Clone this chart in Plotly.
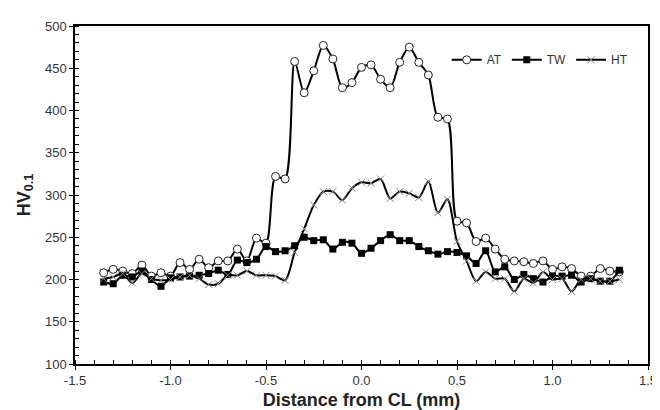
import numpy as np
import plotly.graph_objects as go

# Distance from centre line (mm): -1.35 .. 1.35 step 0.05 (55 points)
distance = [round(-1.35 + 0.05 * i, 2) for i in range(55)]

AT = [208, 212, 210, 207, 217, 204, 208, 204, 220, 212,
      224, 214, 222, 222, 236, 222, 249, 243, 322, 319,
      458, 421, 447, 477, 461, 427, 433, 451, 454, 437,
      427, 457, 475, 457, 442, 392, 390, 269, 267, 245,
      249, 236, 224, 222, 221, 219, 222, 212, 215, 213,
      204, 204, 213, 210, 209]

TW = [197, 195, 205, 203, 210, 200, 192, 202, 203, 204,
      205, 207, 211, 206, 223, 220, 224, 239, 233, 234,
      240, 250, 246, 247, 236, 244, 243, 231, 237, 246,
      253, 246, 246, 239, 234, 230, 233, 232, 228, 219,
      234, 209, 215, 200, 206, 201, 197, 204, 204, 205,
      197, 201, 198, 198, 211]

HT = [201, 203, 207, 196, 207, 201, 199, 200, 203, 205,
      201, 194, 195, 205, 205, 210, 205, 205, 204, 199,
      232, 260, 288, 304, 304, 294, 308, 315, 314, 319,
      296, 304, 302, 297, 316, 279, 295, 245, 222, 198,
      209, 201, 201, 186, 201, 196, 209, 200, 201, 186,
      200, 201, 198, 198, 200]

x_ticks = [-1.5, -1.0, -0.5, 0.0, 0.5, 1.0, 1.5]
x_ticklabels = ["-1.5", "-1.0", "-0.5", "0.0", "0.5", "1.0", "1.5"]

FONT = "Liberation Sans, Arial, sans-serif"

fig = go.Figure()
fig.add_trace(go.Scatter(
    x=distance, y=AT, name="AT", mode="lines+markers",
    line=dict(color="black", width=2, shape="spline", smoothing=0.8),
    marker=dict(symbol="circle", size=8, color="white",
                line=dict(color="#222", width=1))))
fig.add_trace(go.Scatter(
    x=distance, y=TW, name="TW", mode="lines+markers",
    line=dict(color="black", width=2, shape="spline", smoothing=0.8),
    marker=dict(symbol="square", size=7, color="black")))
fig.add_trace(go.Scatter(
    x=distance, y=HT, name="HT", mode="lines+markers",
    line=dict(color="black", width=2, shape="spline", smoothing=0.8),
    marker=dict(symbol="x-thin", size=7, color="#888",
                line=dict(color="#888", width=1))))

fig.update_layout(
    width=660, height=410,
    margin=dict(l=67, r=11, t=13, b=47),
    paper_bgcolor="white", plot_bgcolor="white",
    font=dict(family=FONT, size=13, color="#333"),
    showlegend=True,
    legend=dict(orientation="h", x=0.975, xanchor="right", y=0.90, yanchor="middle",
                bgcolor="rgba(0,0,0,0)", font=dict(size=12, color="#333"),
                itemwidth=30, tracegroupgap=0),
    xaxis=dict(range=[-1.5, 1.5], tickvals=x_ticks, ticktext=x_ticklabels,
               showgrid=False, zeroline=False,
               showline=True, linecolor="black", linewidth=1.5, mirror=True,
               ticks="outside", ticklen=4, tickwidth=1, tickcolor="black",
               minor=dict(dtick=0.1, ticks="inside", ticklen=4, tickcolor="black", tickwidth=1),
               tickfont=dict(size=13, color="#333"),
               title=dict(text="<b>Distance from CL (mm)</b>", font=dict(size=18, color="#222"),
                          standoff=6)),
    yaxis=dict(range=[100, 500], dtick=50,
               showgrid=False, zeroline=False,
               showline=True, linecolor="black", linewidth=1.5, mirror=True,
               ticks="outside", ticklen=4, tickwidth=1, tickcolor="black",
               minor=dict(dtick=10, ticks="inside", ticklen=4, tickcolor="black", tickwidth=1),
               tickfont=dict(size=13, color="#333"),
               title=dict(text="<b>HV<sub>0.1</sub></b>", font=dict(size=18, color="#222"),
                          standoff=10)),
)

fig.write_html("out.html")
